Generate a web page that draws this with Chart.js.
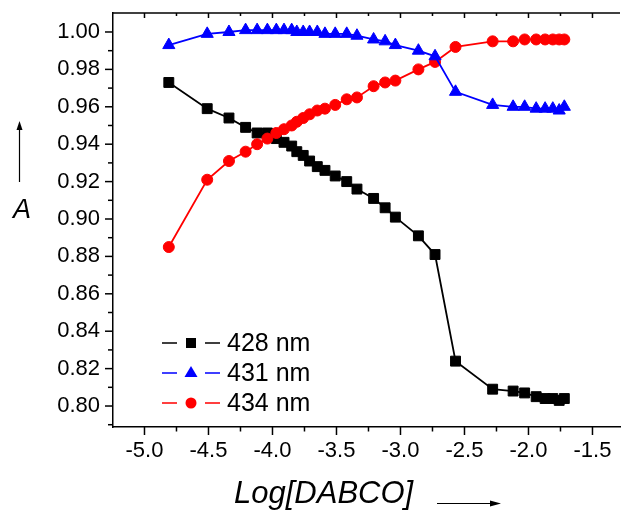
<!DOCTYPE html>
<html>
<head>
<meta charset="utf-8">
<script src="https://cdn.jsdelivr.net/npm/chart.js@4"></script>
<style>
  html, body { margin: 0; padding: 0; background: #fff; }
  canvas { display: block; }
</style>
</head>
<body>
<canvas id="absChart" width="628" height="510"></canvas>
<script>
// data
const logDabco = [-4.81, -4.51, -4.34, -4.21, -4.12, -4.04, -3.97, -3.91, -3.85, -3.81, -3.76,
                  -3.71, -3.65, -3.59, -3.51, -3.42, -3.34, -3.21, -3.12, -3.04, -2.86, -2.73,
                  -2.57, -2.28, -2.12, -2.03, -1.94, -1.87, -1.81, -1.76, -1.72];
const a428 = [0.973, 0.959, 0.954, 0.949, 0.946, 0.946, 0.943, 0.941, 0.939, 0.936, 0.934,
              0.931, 0.928, 0.926, 0.923, 0.920, 0.916, 0.911, 0.906, 0.901, 0.891, 0.881,
              0.824, 0.809, 0.808, 0.807, 0.805, 0.804, 0.804, 0.803, 0.804];
const a431 = [0.993, 0.999, 1.000, 1.001, 1.001, 1.001, 1.001, 1.001, 1.001, 1.000, 1.000,
              1.000, 1.000, 0.999, 0.999, 0.999, 0.998, 0.996, 0.995, 0.993, 0.990, 0.987,
              0.968, 0.961, 0.960, 0.960, 0.959, 0.959, 0.959, 0.958, 0.960];
const a434 = [0.885, 0.921, 0.931, 0.936, 0.940, 0.943, 0.946, 0.948, 0.950, 0.952, 0.954,
              0.956, 0.958, 0.959, 0.961, 0.964, 0.965, 0.971, 0.973, 0.974, 0.980, 0.984,
              0.992, 0.995, 0.995, 0.996, 0.996, 0.996, 0.996, 0.996, 0.996];
const seriesNames = ['428 nm', '431 nm', '434 nm'];
const seriesColors = ['#000000', '#0000ff', '#ff0000'];
const seriesShapes = ['rect', 'triangle', 'circle'];

const tickFont = { family: 'Liberation Sans, Arial, sans-serif', size: 22 };

function toPoints(ys) {
    return logDabco.map((x, i) => ({ x: x, y: ys[i] }));
}

function makeSet(i, ys, radius, order) {
    return {
        label: seriesNames[i],
        data: toPoints(ys),
        borderColor: seriesColors[i],
        backgroundColor: seriesColors[i],
        pointBackgroundColor: seriesColors[i],
        pointBorderColor: seriesColors[i],
        pointStyle: seriesShapes[i],
        pointRadius: radius,
        pointBorderWidth: 1,
        borderWidth: 1.8,
        tension: 0,
        order: order
    };
}

// tick marks, frame, legend, axis titles
const decorPlugin = {
    id: 'decor',
    afterDraw(chart) {
        const c = chart.ctx;
        const area = chart.chartArea;
        const xs = chart.scales.x, ys = chart.scales.y;
        c.save();
        c.strokeStyle = '#000';
        c.lineWidth = 1.5;
        // top frame
        c.beginPath();
        c.moveTo(area.left, area.top);
        c.lineTo(area.right, area.top);
        c.stroke();
        // x ticks (bottom outward, top inward)
        xs.ticks.forEach(t => {
            const px = xs.getPixelForValue(t.value);
            if (px < area.left + 1 || px > area.right) return;
            const major = t.label !== '';
            c.beginPath();
            c.moveTo(px, area.bottom);
            c.lineTo(px, area.bottom + (major ? 8 : 4.5));
            c.moveTo(px, area.top);
            c.lineTo(px, area.top + (major ? 5 : 3));
            c.stroke();
        });
        // y ticks
        ys.ticks.forEach(t => {
            const py = ys.getPixelForValue(t.value);
            if (py < area.top + 1 || py > area.bottom) return;
            const major = t.label !== '';
            c.beginPath();
            c.moveTo(area.left, py);
            c.lineTo(area.left - (major ? 8 : 5), py);
            c.stroke();
        });

        // legend inside plot
        const lx = area.left + 49;
        const rows = [area.bottom - 84, area.bottom - 54, area.bottom - 24];
        c.font = '25px Liberation Sans, Arial, sans-serif';
        c.textBaseline = 'middle';
        chart.data.datasets.forEach((ds, i) => {
            const y = rows[i];
            c.strokeStyle = ds.borderColor;
            c.fillStyle = ds.borderColor;
            c.lineWidth = 1.5;
            c.beginPath();
            c.moveTo(lx, y); c.lineTo(lx + 15, y);
            c.moveTo(lx + 43, y); c.lineTo(lx + 58, y);
            c.stroke();
            const mx = lx + 29;
            c.beginPath();
            if (ds.pointStyle === 'rect') {
                c.rect(mx - 5, y - 5, 10, 10);
            } else if (ds.pointStyle === 'triangle') {
                c.moveTo(mx, y - 7);
                c.lineTo(mx + 6.5, y + 4);
                c.lineTo(mx - 6.5, y + 4);
                c.closePath();
            } else {
                c.arc(mx, y, 5.5, 0, Math.PI * 2);
            }
            c.fill();
            c.fillStyle = '#000';
            c.fillText(ds.label, lx + 65, y + 1);
        });

        // y title with arrow
        c.fillStyle = '#000';
        c.strokeStyle = '#000';
        c.lineWidth = 1.2;
        c.font = 'italic 27px Liberation Sans, Arial, sans-serif';
        c.textAlign = 'center';
        c.textBaseline = 'alphabetic';
        c.fillText('A', 22, 218);
        c.beginPath();
        c.moveTo(19.5, 182); c.lineTo(19.5, 126);
        c.stroke();
        c.beginPath();
        c.moveTo(19.5, 121); c.lineTo(16.5, 130); c.lineTo(22.5, 130); c.closePath();
        c.fill();

        // x title with arrow
        c.font = 'italic 31px Liberation Sans, Arial, sans-serif';
        c.textAlign = 'left';
        c.fillText('Log[DABCO]', 234, 503);
        c.beginPath();
        c.moveTo(437, 503.5); c.lineTo(492, 503.5);
        c.stroke();
        c.beginPath();
        c.moveTo(501, 503.5); c.lineTo(490, 500.5); c.lineTo(490, 506.5); c.closePath();
        c.fill();
        c.restore();
    }
};

const absChart = new Chart(document.getElementById('absChart').getContext('2d'), {
    type: 'line',
    data: {
        datasets: [
            makeSet(0, a428, 7, 3),
            makeSet(1, a431, 7, 1),
            makeSet(2, a434, 5.5, 2)
        ]
    },
    options: {
        responsive: false,
        animation: false,
        layout: { padding: { top: 13, right: 0, left: 0, bottom: 0 } },
        plugins: {
            legend: { display: false },
            tooltip: { enabled: false }
        },
        scales: {
            x: {
                type: 'linear',
                min: -5.246,
                max: -1.285,
                border: { display: true, color: '#000', width: 1.5 },
                grid: { display: true, drawOnChartArea: false, drawTicks: false, color: 'rgba(0,0,0,0)' },
                ticks: {
                    stepSize: 0.25,
                    includeBounds: false,
                    autoSkip: false,
                    maxRotation: 0,
                    padding: 11,
                    color: '#000',
                    font: tickFont,
                    callback: v => Math.abs(v * 2 - Math.round(v * 2)) < 1e-6 ? v.toFixed(1) : ''
                },
                afterFit: s => { s.height = 83; s.paddingLeft = 0; s.paddingRight = 0; }
            },
            y: {
                type: 'linear',
                min: 0.78878,
                max: 1.01015,
                border: { display: true, color: '#000', width: 1.5 },
                grid: { display: true, drawOnChartArea: false, drawTicks: false, color: 'rgba(0,0,0,0)' },
                ticks: {
                    stepSize: 0.01,
                    includeBounds: false,
                    autoSkip: false,
                    padding: 13,
                    color: '#000',
                    font: tickFont,
                    callback: v => Math.round(v * 100) % 2 === 0 ? v.toFixed(2) : ''
                },
                afterFit: s => { s.width = 113; s.paddingTop = 0; s.paddingBottom = 0; }
            }
        }
    },
    plugins: [decorPlugin]
});
</script>
</body>
</html>
